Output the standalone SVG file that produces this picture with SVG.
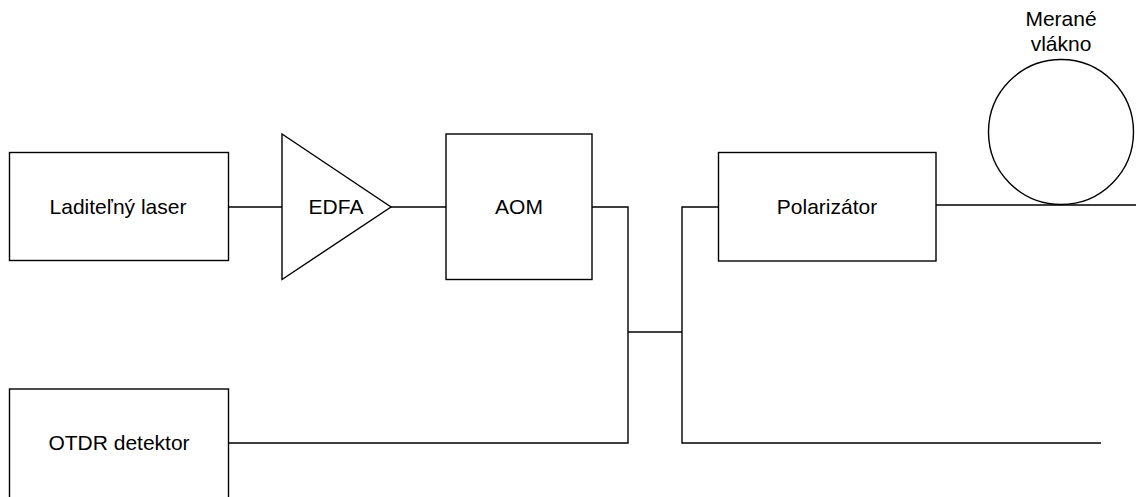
<svg xmlns="http://www.w3.org/2000/svg" width="1136" height="497" viewBox="0 0 1136 497">
  <style>
    .box { fill: #ffffff; stroke: #000000; stroke-width: 1.4; }
    .wire { fill: none; stroke: #000000; stroke-width: 1.4; }
    .lbl { font-family: "Liberation Sans", Arial, sans-serif; font-size: 21px; fill: #000000; text-anchor: middle; }
  </style>
  <rect width="1136" height="497" fill="#ffffff"/>

  <!-- optical paths -->
  <g id="connectors">
    <line class="wire" x1="228.5" y1="207" x2="282" y2="207"/>
    <line class="wire" x1="391" y1="207" x2="446" y2="207"/>
    <polyline class="wire" points="592,207 628,207 628,443 228.5,443"/>
    <line class="wire" x1="628" y1="332" x2="682" y2="332"/>
    <polyline class="wire" points="718.5,207 682,207 682,443 1101,443"/>
    <line class="wire" x1="936" y1="205" x2="1136" y2="205"/>
  </g>

  <g id="laser">
    <rect class="box" x="9.5" y="152.5" width="219" height="108"/>
    <text class="lbl" x="118" y="213.5">Laditeľný laser</text>
  </g>

  <g id="edfa">
    <polygon class="box" points="282,134 282,279.5 391,207"/>
    <text class="lbl" x="336" y="213.5">EDFA</text>
  </g>

  <g id="aom">
    <rect class="box" x="446" y="134" width="146" height="145.5"/>
    <text class="lbl" x="519" y="213.5">AOM</text>
  </g>

  <g id="polarizer">
    <rect class="box" x="718.5" y="152.5" width="217.5" height="108.5"/>
    <text class="lbl" x="827" y="213.5">Polarizátor</text>
  </g>

  <g id="fiber">
    <circle class="box" cx="1061" cy="132" r="72.5"/>
    <text class="lbl" x="1061" y="26">Merané</text>
    <text class="lbl" x="1061" y="51">vlákno</text>
  </g>

  <g id="otdr">
    <rect class="box" x="9.5" y="389" width="219" height="120"/>
    <text class="lbl" x="119" y="450">OTDR detektor</text>
  </g>
</svg>
